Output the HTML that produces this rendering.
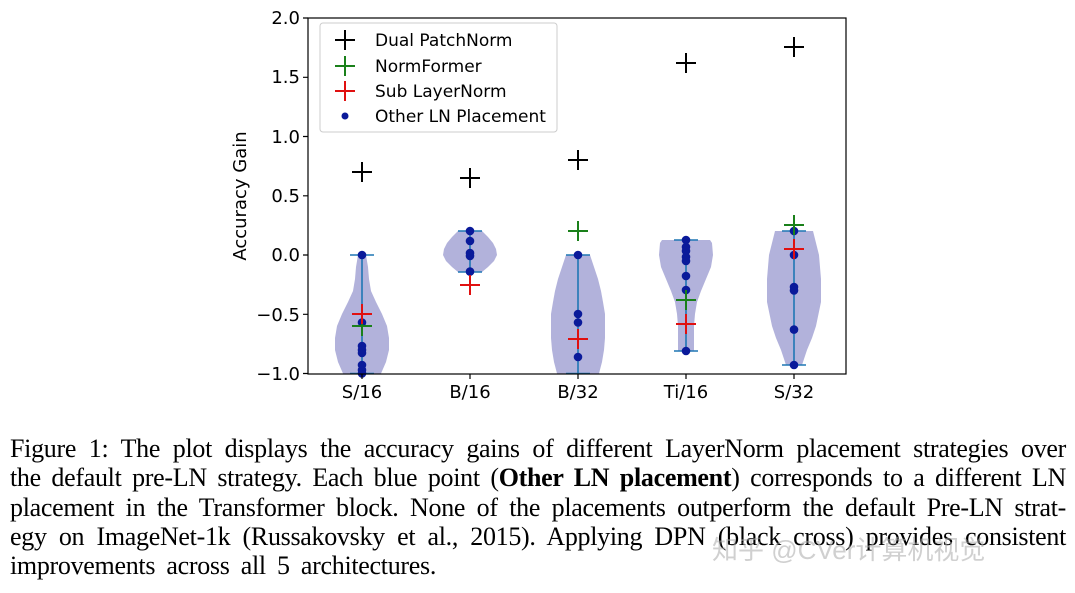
<!DOCTYPE html>
<html><head><meta charset="utf-8"><style>
body{margin:0;background:#fff;width:1075px;height:593px;overflow:hidden;position:relative}
svg{position:absolute;left:0;top:0}
.cap{position:absolute;left:10px;top:434px;width:1056px;font-family:"Liberation Serif",serif;font-size:26px;letter-spacing:-0.3px;word-spacing:-1px;line-height:29.3px;color:#000}
.cap div{text-align:justify;text-align-last:justify;white-space:nowrap}
.cap div.l{text-align-last:left;word-spacing:5px}
.wm{position:absolute;left:712px;top:530px;font-family:"Liberation Sans","Noto Sans CJK SC",sans-serif;font-size:26px;color:rgba(170,170,170,0.55)}
</style></head><body>
<svg width="1075" height="430" xmlns="http://www.w3.org/2000/svg" font-family="DejaVu Sans, sans-serif">
<g fill="rgb(178,178,219)" stroke="none">
<polygon points="366,255 368,267 369,279 371,291 376,302 382,314 387,326 389,338 389,350 386,362 381,373.5 343,373.5 338,362 335,350 335,338 337,326 342,314 348,302 353,291 355,279 356,267 358,255"/>
<polygon points="482,231 488,237 493,243 496,249 497,255 494,261 488,267 482,272 458,272 452,267 446,261 443,255 444,249 447,243 452,237 458,231"/>
<polygon points="590,255 594,267 598,279 601,291 603,302 605,314 605,326 605,338 604,350 602,362 599,373.5 557,373.5 554,362 552,350 551,338 551,326 551,314 553,302 555,291 558,279 562,267 566,255"/>
<polygon points="710,240 712,243 713,255 711,267 706,279 701,291 697,302 695,314 694,326 694,338 694,351 678,351 678,338 678,326 677,314 675,302 671,291 666,279 661,267 659,255 660,243 662,240"/>
<polygon points="813,231 816,243 819,255 821,279 821,302 816,326 812,338 807,350 802,365 786,365 781,350 776,338 772,326 767,302 767,279 769,255 772,243 775,231"/>
</g>
<g stroke="#1f77b4" stroke-width="1.6" fill="none">
<path d="M362,255V373.5M350,255H374M350,373.5H374"/>
<path d="M470,231V272M458,231H482M458,272H482"/>
<path d="M578,255V373.5M566,255H590M566,373.5H590"/>
<path d="M686,240V351M674,240H698M674,351H698"/>
<path d="M794,231V365M782,231H806M782,365H806"/>
</g>
<g fill="#0a1a9a">
<circle cx="362" cy="255" r="4.3"/><circle cx="362" cy="322.5" r="4.3"/><circle cx="362" cy="346" r="4.3"/><circle cx="362" cy="350" r="4.3"/><circle cx="362" cy="353" r="4.3"/><circle cx="362" cy="365" r="4.3"/><circle cx="362" cy="370" r="4.3"/><circle cx="362" cy="373.5" r="4.3"/>
<circle cx="470" cy="231" r="4.3"/><circle cx="470" cy="241" r="4.3"/><circle cx="470" cy="253" r="4.3"/><circle cx="470" cy="256" r="4.3"/><circle cx="470" cy="271.6" r="4.3"/>
<circle cx="578" cy="255" r="4.3"/><circle cx="578" cy="314" r="4.3"/><circle cx="578" cy="322.5" r="4.3"/><circle cx="578" cy="357" r="4.3"/>
<circle cx="686" cy="240" r="4.3"/><circle cx="686" cy="247" r="4.3"/><circle cx="686" cy="251" r="4.3"/><circle cx="686" cy="257" r="4.3"/><circle cx="686" cy="261" r="4.3"/><circle cx="686" cy="276" r="4.3"/><circle cx="686" cy="290" r="4.3"/><circle cx="686" cy="351" r="4.3"/>
<circle cx="794" cy="231" r="4.3"/><circle cx="794" cy="255" r="4.3"/><circle cx="794" cy="287" r="4.3"/><circle cx="794" cy="290.5" r="4.3"/><circle cx="794" cy="329.6" r="4.3"/><circle cx="794" cy="365" r="4.3"/>
</g>
<g stroke-width="2" fill="none">
<path stroke="#000" d="M352,172H372M362,162V182 M460,178H480M470,168V188 M568,160H588M578,150V170 M676,63H696M686,53V73 M784,47H804M794,37V57"/>
<path stroke="#1a801a" d="M352,326H372M362,316V336 M568,231H588M578,221V241 M676,300H696M686,290V310 M784,225H804M794,215V235"/>
<path stroke="#e01010" d="M352,314H372M362,304V324 M460,285H480M470,275V295 M568,339H588M578,329V349 M676,324H696M686,314V334 M784,249H804M794,239V259"/>
</g>
<rect x="308" y="18" width="538" height="356" fill="none" stroke="#000" stroke-width="1.2"/>
<g stroke="#000" stroke-width="1.2">
<path d="M303,18H308M303,77.3H308M303,136.5H308M303,195.8H308M303,255H308M303,314.3H308M303,373.5H308"/>
<path d="M362,374V379M470,374V379M578,374V379M686,374V379M794,374V379"/>
</g>
<g font-size="18" text-anchor="end" fill="#000">
<text x="300" y="24">2.0</text><text x="300" y="83">1.5</text><text x="300" y="143">1.0</text><text x="300" y="202">0.5</text><text x="300" y="261">0.0</text><text x="300" y="321">−0.5</text><text x="300" y="380">−1.0</text>
</g>
<g font-size="18" text-anchor="middle" fill="#000">
<text x="362" y="398">S/16</text><text x="470" y="398">B/16</text><text x="578" y="398">B/32</text><text x="686" y="398">Ti/16</text><text x="794" y="398">S/32</text>
</g>
<text x="246" y="196" font-size="18" text-anchor="middle" transform="rotate(-90 246 196)">Accuracy Gain</text>
<rect x="320" y="23" width="237" height="109" rx="3" fill="#fff" stroke="#ccc" stroke-width="1"/>
<g stroke-width="2">
<path stroke="#000" d="M335,40H355M345,30V50"/>
<path stroke="#1a801a" d="M335,66H355M345,56V76"/>
<path stroke="#e01010" d="M335,91H355M345,81V101"/>
</g>
<circle cx="345" cy="116" r="3.5" fill="#0a1a9a"/>
<g font-size="17" fill="#000">
<text x="375" y="46">Dual PatchNorm</text><text x="375" y="72">NormFormer</text><text x="375" y="97">Sub LayerNorm</text><text x="375" y="122">Other LN Placement</text>
</g>
</svg>
<div class="cap">
<div>Figure 1: The plot displays the accuracy gains of different LayerNorm placement strategies over</div>
<div>the default pre-LN strategy. Each blue point (<b>Other LN placement</b>) corresponds to a different LN</div>
<div>placement in the Transformer block. None of the placements outperform the default Pre-LN strat-</div>
<div>egy on ImageNet-1k (Russakovsky et al., 2015). Applying DPN (black cross) provides consistent</div>
<div class="l">improvements across all 5 architectures.</div>
</div>
<div class="wm">知乎 @CVer计算机视觉</div>
</body></html>
